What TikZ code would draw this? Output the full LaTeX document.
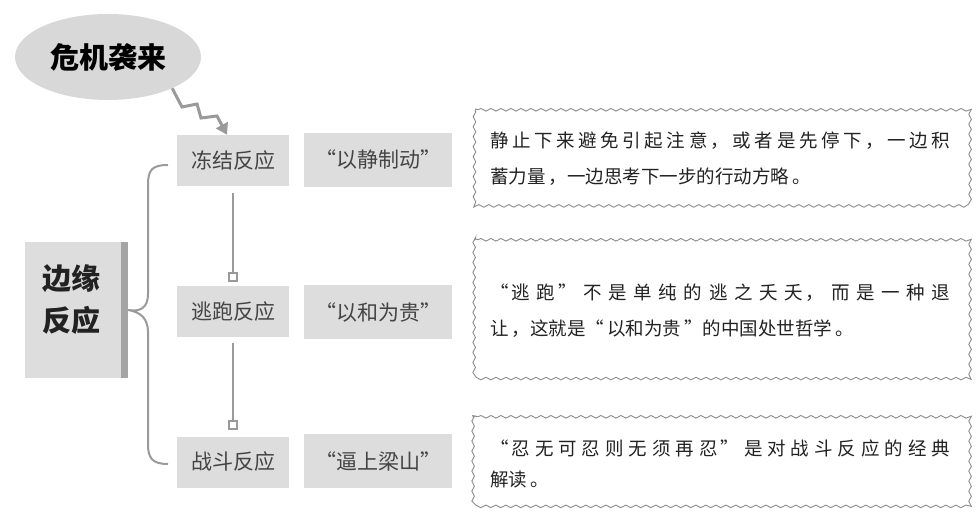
\documentclass[tikz,border=0pt]{standalone}
\usepackage{fontspec}
\newfontfamily\cjk{Noto Sans CJK SC}
\newfontfamily\cjkbody[LetterSpace=17]{Noto Sans CJK SC}
\XeTeXlinebreaklocale "zh"
\XeTeXlinebreakskip=0pt plus 4pt
\usetikzlibrary{shapes.geometric,arrows.meta,decorations.pathmorphing}
\definecolor{boxgray}{HTML}{DDDDDD}
\definecolor{ellgray}{HTML}{D8D8D8}
\definecolor{linegray}{HTML}{9A9A9A}
\definecolor{stripgray}{HTML}{A4A4A4}
\definecolor{labeltext}{HTML}{444444}
\definecolor{bodytext}{HTML}{222222}
\definecolor{wavecol}{HTML}{8C8C8C}
\newcommand\wavyframe[1]{%
  \draw[wavyline] ([xshift=6pt]#1.north west) -- ([xshift=-6pt]#1.north east)
    .. controls (#1.north east) .. ([yshift=-6pt]#1.north east)
    -- ([yshift=6pt]#1.south east)
    .. controls (#1.south east) .. ([xshift=-6pt]#1.south east)
    -- ([xshift=6pt]#1.south west)
    .. controls (#1.south west) .. ([yshift=6pt]#1.south west)
    -- ([yshift=-6pt]#1.north west)
    .. controls (#1.north west) .. ([xshift=6pt]#1.north west);}
\begin{document}
\begin{tikzpicture}[x=1pt,y=-1pt,
  lbl/.style={fill=boxgray, minimum width=112pt, minimum height=51pt, inner sep=0pt,
    font=\cjk\fontsize{21}{24}\selectfont, text=labeltext},
  quotebox/.style={lbl, minimum width=148pt, minimum height=54pt},
  bigbox/.style={fill=boxgray, minimum width=103pt, minimum height=136pt, inner sep=0pt},
  bigtext/.style={align=center, inner sep=0pt, font=\cjk\bfseries\fontsize{29}{42}\selectfont, text=bodytext},
  wavy/.style={inner xsep=18pt, inner ysep=0pt, text width=460pt, align=justify,
    font=\cjkbody\fontsize{18.5}{36}\selectfont, text=bodytext},
  wavyline/.style={draw=wavecol, line width=0.9pt, decorate,
    decoration={snake, segment length=10pt, amplitude=1.3pt}},
  sq/.style={draw=linegray, fill=white, line width=1.5pt, minimum size=8pt, inner sep=0pt},
  conn/.style={draw=linegray, line width=2pt},
  brace/.style={draw=linegray, line width=2pt},
  zig/.style={draw=linegray, line width=3pt, -{Triangle[length=11pt,width=13pt]}}
]
\fill[white] (0,0) rectangle (980,521);
\useasboundingbox (0,0) rectangle (980,521);

% ellipse
\node[ellipse, fill=ellgray, minimum width=186pt, minimum height=86pt, inner sep=0pt,
  font=\cjk\bfseries\fontsize{29}{32}\selectfont, text=black] (e) at (108,57) {危机袭来};

% reaction boxes
\node[lbl] (f) at (233,160.5) {冻结反应};
\node[quotebox] (fq) at (378,160) {“以静制动”};
\node[lbl] (r) at (233,312) {逃跑反应};
\node[quotebox] (rq) at (378,312.5) {“以和为贵”};
\node[lbl] (g) at (233,462) {战斗反应};
\node[quotebox] (gq) at (378,461) {“逼上梁山”};

% big box
\node[bigbox] (b) at (76.5,310) {};
\fill[stripgray] ([xshift=-7pt]b.north east) rectangle (b.south east);
\node[bigtext] (bt) at (71,300) {边缘\\反应};

% squares and connectors
\node[sq] (s1) at (233,277) {};
\node[sq] (s2) at (233,425) {};
\draw[conn] ([yshift=-7pt]f.south) -- (s1.north);
\draw[conn] ([yshift=-5pt]r.south) -- (s2.north);

% zigzag arrow
\draw[zig] (e.-26) -- (182,107) -- (197,104) -- (201,118) -- (217,116) -- ([xshift=-6pt]f.north);

% brace
\coordinate (btop) at (168,165);
\coordinate (bbot) at (168,464);
\draw[brace] (btop) .. controls (152,165) and (148,170) .. (148,185) -- (148,294)
  .. controls (148,308) and (140,312) .. (b.east)
  .. controls (140,312) and (148,318) .. (148,332) -- (148,444)
  .. controls (148,458) and (152,464) .. (bbot);

% wavy text boxes
\node[wavy, minimum height=97pt] (w1) at (720,158.5)
  {静止下来避免引起注意，或者是先停下，一边积\linebreak 蓄力量，一边思考下一步的行动方略。};
\node[wavy, minimum height=142pt] (w2) at (720,311)
  {“逃跑”不是单纯的逃之夭夭，而是一种退\linebreak 让，这就是“以和为贵”的中国处世哲学。};
\node[wavy, minimum height=93pt, font=\cjkbody\fontsize{18.5}{31}\selectfont] (w3) at (720,463.5)
  {“忍无可忍则无须再忍”是对战斗反应的经典\linebreak 解读。};
\wavyframe{w1}
\wavyframe{w2}
\wavyframe{w3}
\end{tikzpicture}
\end{document}
